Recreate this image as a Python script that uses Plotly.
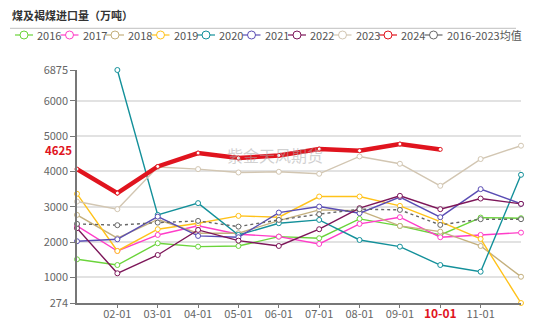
import plotly.graph_objects as go

# Monthly coal & lignite imports (10k tonnes)
months = ["01-01", "02-01", "03-01", "04-01", "05-01", "06-01",
          "07-01", "08-01", "09-01", "10-01", "11-01", "12-01"]

y2016 = [1512, 1350, 1967, 1870, 1890, 2154, 2109, 2657, 2458, 2202, 2694, 2676]
y2017 = [2458, 1748, 2202, 2460, 2222, 2154, 1947, 2515, 2705, 2137, 2202, 2268]
y2018 = [2770, 2109, 2640, 2251, 2251, 2608, 2912, 2890, 2458, 2296, 1890, 1018]
y2019 = [3367, 1748, 2364, 2534, 2742, 2705, 3290, 3290, 3026, 2580, 2089, 274]
y2020 = [None, 6875, 2770, 3103, 2202, 2534, 2628, 2060, 1870, 1350, 1160, 3906]
y2021 = [2023, 2080, 2722, 2174, 2137, 2836, 3006, 2819, 3273, 2705, 3500, 3083]
y2022 = [2393, 1115, 1634, 2344, 2040, 1890, 2364, 2961, 3310, 2932, 3233, 3083]
y2023 = [3148, 2932, 4125, 4068, 3972, 3991, 3935, 4426, 4219, 3594, 4352, 4730]
y2024 = [4068, 3387, 4142, 4523, 4381, 4454, 4636, 4588, 4778, 4625, None, None]
y_avg = [2515, 2478, 2552, 2600, 2438, 2628, 2790, 2932, 2912, 2486, 2648, 2648]

names = ["2016", "2017", "2018", "2019", "2020", "2021", "2022", "2023", "2024",
         "2016-2023均值"]
series = [y2016, y2017, y2018, y2019, y2020, y2021, y2022, y2023, y2024, y_avg]
colors = ["#6ad43a", "#ff3dc8", "#c4b07e", "#ffc21a", "#13909a", "#5a4db4",
          "#7d1659", "#d2c6b2", "#e0141e", "#666666"]

y_ticks = [274, 1000, 2000, 3000, 4000, 5000, 6000, 6875]
x_ticks = months[1:11]
latest_label = "10-01"
latest_value = y2024[9]

FONT = "Noto Sans CJK SC"

# plot-area geometry in pixels
W, H = 550, 321
L, R, T, B = 77, 29, 70, 18
PW, PH = W - L - R, H - T - B


def px_x(px):
    return (px - L) / PW


def px_y(py):
    return (H - B - py) / PH


fig = go.Figure()

draw_order = [0, 1, 2, 3, 4, 5, 6, 7, 9, 8]
for i in draw_order:
    is_main = names[i] == "2024"
    is_avg = i == 9
    fig.add_trace(go.Scatter(
        x=months, y=series[i], name=names[i], mode="lines+markers",
        line=dict(color=colors[i], width=4.5 if is_main else 1.4,
                  dash="dot" if is_avg else "solid"),
        marker=dict(symbol="circle", size=4 if is_main else 5, color="white",
                    line=dict(color=colors[i], width=1)),
        cliponaxis=False, showlegend=False, connectgaps=False,
    ))

tick_text = []
for m in x_ticks:
    if m == latest_label:
        tick_text.append('<span style="color:#e0141e;font-size:12px"><b>%s</b></span>' % m)
    else:
        tick_text.append(m)

shapes = []
annotations = []

# header rule under the title
shapes.append(dict(type="line", xref="paper", yref="paper",
                   x0=px_x(10), x1=px_x(516), y0=px_y(28.3), y1=px_y(28.3),
                   line=dict(color="#cccccc", width=1.2)))

# legend row
leg_y = 35
for k, name in enumerate(names):
    cx = 24 + k * 45.5
    shapes.append(dict(type="line", xref="paper", yref="paper",
                       x0=px_x(cx - 9), x1=px_x(cx + 9), y0=px_y(leg_y), y1=px_y(leg_y),
                       line=dict(color=colors[k], width=1.2)))
    shapes.append(dict(type="circle", xref="paper", yref="paper",
                       xsizemode="pixel", ysizemode="pixel",
                       xanchor=px_x(cx), yanchor=px_y(leg_y),
                       x0=-4, x1=4, y0=-4, y1=4,
                       fillcolor="white", line=dict(color=colors[k], width=1)))
    annotations.append(dict(text=name, xref="paper", yref="paper",
                            x=px_x(cx + 11), y=px_y(leg_y), xanchor="left",
                            yanchor="middle", showarrow=False,
                            font=dict(family=FONT, size=11, color="#555555")))

# latest value badge on the y axis
annotations.append(dict(text="<b>%d</b>" % latest_value, xref="paper", yref="y",
                        x=px_x(58), y=latest_value, yshift=-1, xanchor="center",
                        yanchor="middle", showarrow=False,
                        bgcolor="white", borderpad=0,
                        font=dict(family=FONT, size=11.5, color="#e0141e")))

# watermark
annotations.append(dict(text="紫金天风期货", xref="paper", yref="paper",
                        x=px_x(275), y=px_y(155), showarrow=False,
                        font=dict(family=FONT, size=16, color="rgba(170,170,170,0.55)")))

fig.update_layout(
    width=W, height=H,
    margin=dict(l=L, r=R, t=T, b=B),
    paper_bgcolor="white", plot_bgcolor="white",
    title=dict(text="<b>煤及褐煤进口量（万吨）</b>", x=12 / W, xanchor="left",
               y=1 - 15.7 / H, yanchor="middle",
               font=dict(family=FONT, size=11, color="#333333")),
    xaxis=dict(type="category", categoryorder="array", categoryarray=months,
               range=[0, 11], tickmode="array", tickvals=x_ticks, ticktext=tick_text,
               showgrid=False, showline=True, linecolor="#777777", linewidth=1.5,
               ticks="outside", ticklen=3, tickcolor="#777777",
               ticklabelstandoff=-3,
               tickfont=dict(family=FONT, size=11, color="#666666"),
               automargin=False, zeroline=False),
    yaxis=dict(range=[274, 6875], tickmode="array", tickvals=y_ticks,
               showgrid=True, gridcolor="#e2e2e2", gridwidth=1.8,
               showline=True, linecolor="#777777", linewidth=1.5,
               ticks="outside", ticklen=5, tickcolor="#777777",
               tickfont=dict(family=FONT, size=11, color="#666666"),
               automargin=False, zeroline=False),
    shapes=shapes, annotations=annotations,
)

fig.write_html("out.html")
